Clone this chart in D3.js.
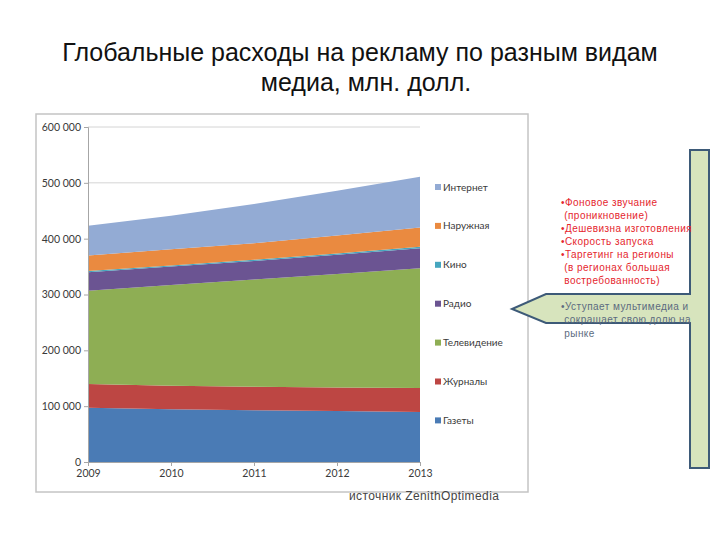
<!DOCTYPE html>
<html>
<head>
<meta charset="utf-8">
<script src="https://cdn.jsdelivr.net/npm/d3@7"></script>
<style>
  body { margin: 0; background: #fff; }
  svg { display: block; }
</style>
</head>
<body>
<svg id="slide" width="720" height="540"></svg>
<script>
// --- данные (млн. долл., оценки по картинке) ---
const years = [2009, 2010, 2011, 2012, 2013];
const gazety = [97000, 94600, 92800, 91500, 89700];
const zhurnaly = [42500, 41800, 41800, 42000, 43000];
const televidenie = [167400, 180600, 192400, 203300, 214200];
const radio = [33000, 33000, 33000, 34200, 36000];
const kino = [2000, 2100, 2200, 2400, 2600];
const naruzhnaya = [27800, 28900, 29800, 32200, 34400];
const internet = [53300, 60000, 70000, 80400, 91000];

const seriesNames = ["Газеты", "Журналы", "Телевидение", "Радио", "Кино", "Наружная", "Интернет"];
const seriesValues = [gazety, zhurnaly, televidenie, radio, kino, naruzhnaya, internet];
const seriesColors = ["#4a7bb5", "#bd4643", "#8eae54", "#6b5492", "#46a6bf", "#ea8a40", "#93abd4"];
const yTicks = [0, 100000, 200000, 300000, 400000, 500000, 600000];

const redLines = ["•Фоновое звучание", " (проникновение)", "•Дешевизна изготовления", "•Скорость запуска",
                  "•Таргетинг на регионы", " (в регионах большая", " востребованность)"];
const grayLines = ["•Уступает мультимедиа и", " сокращает свою долю на", " рынке"];

const svg = d3.select("#slide");

// заголовок
svg.append("text").attr("x", 360).attr("y", 61).attr("text-anchor", "middle")
  .attr("font-family", "Liberation Sans, Arial").attr("font-size", 25).attr("fill", "#111")
  .text("Глобальные расходы на рекламу по разным видам");
svg.append("text").attr("x", 366).attr("y", 91).attr("text-anchor", "middle")
  .attr("font-family", "Liberation Sans, Arial").attr("font-size", 25).attr("fill", "#111")
  .text("медиа, млн. долл.");

// рамка диаграммы
svg.append("rect").attr("x", 36).attr("y", 114).attr("width", 492).attr("height", 378)
  .attr("fill", "#fff").attr("stroke", "#c4c4c4").attr("stroke-width", 1.5);

// шкалы
const x = d3.scaleLinear().domain([2009, 2013]).range([88, 420]);
const y = d3.scaleLinear().domain([0, 600000]).range([462, 127]);

// сетка
svg.append("g").selectAll("line").data(yTicks.slice(1)).join("line")
  .attr("x1", x(2009)).attr("x2", x(2013))
  .attr("y1", d => y(d)).attr("y2", d => y(d))
  .attr("stroke", "#d4d4d4").attr("stroke-width", 1);

// стек
const table = years.map((yr, i) => {
  const row = { year: yr };
  seriesNames.forEach((n, k) => row[n] = seriesValues[k][i]);
  return row;
});
const stacked = d3.stack().keys(seriesNames)(table);

const area = d3.area()
  .x(d => x(d.data.year))
  .y0(d => y(d[0]))
  .y1(d => y(d[1]));

svg.append("g").selectAll("path").data(stacked).join("path")
  .attr("d", area)
  .attr("fill", (d, i) => seriesColors[i]);

// оси
const fmt = d => d3.format(",")(d).replace(/,/g, " ");
const yAxis = svg.append("g").attr("transform", `translate(${x(2009)},0)`)
  .call(d3.axisLeft(y).tickValues(yTicks).tickFormat(fmt).tickSize(4).tickPadding(3));
const xAxis = svg.append("g").attr("transform", `translate(0,${y(0)})`)
  .call(d3.axisBottom(x).tickValues(years).tickFormat(d3.format("d")).tickSize(4).tickPadding(4));
[yAxis, xAxis].forEach(g => {
  g.select(".domain").attr("stroke", "#a6a6a6");
  g.selectAll(".tick line").attr("stroke", "#a6a6a6");
  g.selectAll("text").attr("font-family", "Lato, sans-serif").attr("font-size", 10.5).attr("fill", "#3a3a3a");
});

// легенда
const legendNames = seriesNames.slice().reverse();
const legendColors = seriesColors.slice().reverse();
const leg = svg.append("g").selectAll("g").data(legendNames).join("g")
  .attr("transform", (d, i) => `translate(435,${187 + i * 38.9})`);
leg.append("rect").attr("x", 0).attr("y", -3).attr("width", 6).attr("height", 6)
  .attr("fill", (d, i) => legendColors[i]);
leg.append("text").attr("x", 8).attr("y", 3.5)
  .attr("font-family", "Lato, sans-serif").attr("font-size", 10).attr("fill", "#3a3a3a")
  .text(d => d);

// выноска-стрелка
svg.append("path")
  .attr("d", "M690,150 L709,150 L709,468 L690,468 L690,323 L546,323 L512,309 L546,294 L690,294 Z")
  .attr("fill", "#d7e4bd").attr("stroke", "#3d5a78").attr("stroke-width", 2);

svg.append("g").selectAll("text").data(redLines).join("text")
  .attr("x", 561).attr("y", (d, i) => 206 + i * 13)
  .attr("font-family", "Liberation Sans, Arial").attr("font-size", 10).attr("letter-spacing", 0.45)
  .attr("fill", "#e5262e").style("white-space", "pre")
  .text(d => d);

svg.append("g").selectAll("text").data(grayLines).join("text")
  .attr("x", 561).attr("y", (d, i) => 309.5 + i * 13.5)
  .attr("font-family", "Liberation Sans, Arial").attr("font-size", 10).attr("letter-spacing", 0.45)
  .attr("fill", "#5c6b80").style("white-space", "pre")
  .text(d => d);

// источник
svg.append("text").attr("x", 349).attr("y", 500)
  .attr("font-family", "Liberation Sans, Arial").attr("font-size", 12).attr("letter-spacing", 0.4)
  .attr("fill", "#444")
  .text("источник ZenithOptimedia");
</script>
</body>
</html>
